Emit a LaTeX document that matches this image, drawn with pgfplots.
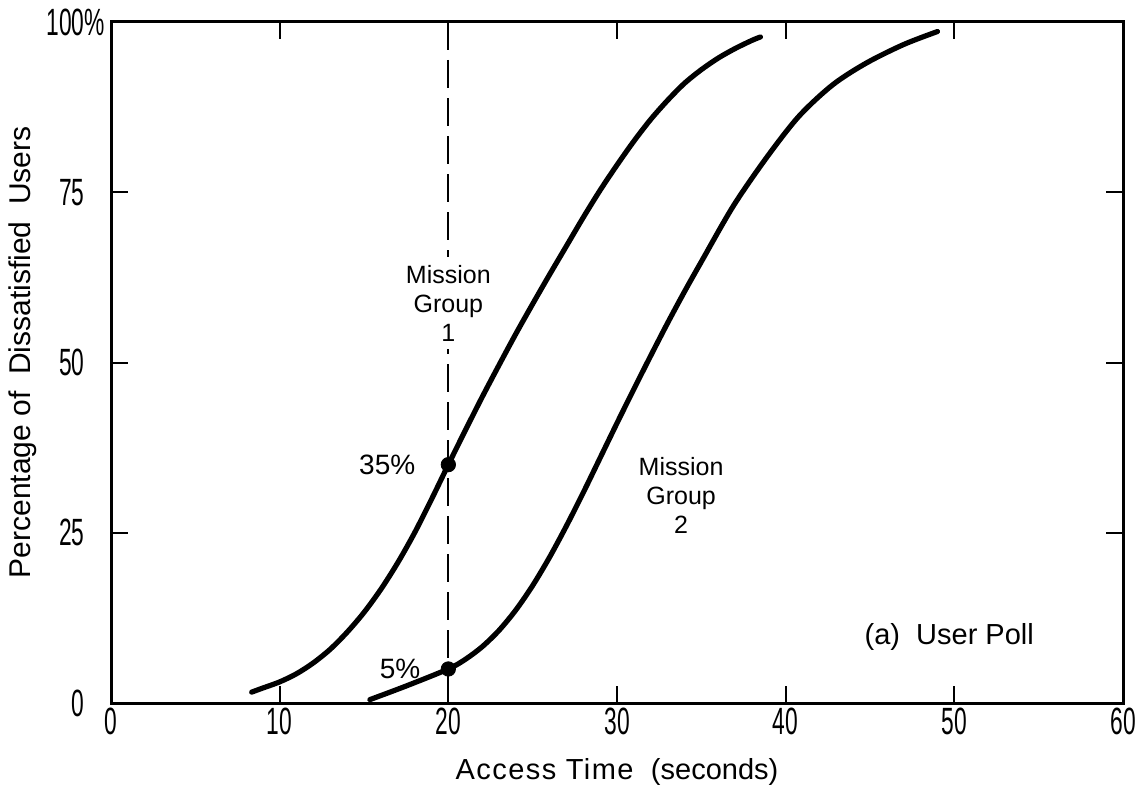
\documentclass[border=0pt]{standalone}
\usepackage{fontspec}
\setmainfont{Liberation Sans}
\newfontfamily\tickfont[FakeStretch=0.6]{Liberation Sans}
\newfontfamily\spacedfont[LetterSpace=5]{Liberation Sans}
\usepackage{pgfplots}
\pgfplotsset{compat=1.18}

% Percentage of dissatisfied users versus access time
\pgfplotstableread{
x     y
8.34  1.6
9     2.2
10    3.1
11    4.3
12    5.9
13    7.9
14    10.4
15    13.3
16    16.7
17    20.6
18    25.0
19    29.9
20    35.0
21    40.0
22    44.9
23    49.6
24    54.2
25    58.6
26    62.9
27    67.1
28    71.3
29    75.3
30    79.0
31    82.5
32    85.7
33    88.5
34    91.0
35    93.0
36    94.7
37    96.1
38    97.3
38.5  97.8
}\groupone

\pgfplotstableread{
x     y
15.35 0.5
17.5  2.5
20    5.0
21    6.4
22    8.25
23    10.65
24    13.65
25    17.25
26    21.4
27    26.0
28    30.9
29    36.0
30    41.1
31    46.1
32    51.0
33    55.8
34    60.4
35    64.8
36.9  73.0
38.9  80.2
40.8  86.2
42.8  90.8
44.8  94.0
47    96.7
49    98.6
}\grouptwo

\begin{document}
\begin{tikzpicture}
\begin{axis}[
  name=ax,
  scale only axis,
  width=506pt, height=340.5pt,
  xmin=0, xmax=60, ymin=0, ymax=100,
  xtick={0,10,20,30,40,50,60},
  xticklabels={0,10,20,30,40,50,60},
  ytick={0,25,50,75,100},
  yticklabels={0,25,50,75,100\rlap{\%}},
  tick align=inside,
  major tick length=8.5pt,
  every tick/.style={black, line width=1pt},
  axis line style={line width=1.5pt},
  tick label style={font=\fontsize{19}{19}\selectfont\tickfont},
  xticklabel style={inner sep=0pt, anchor=north, yshift=-2.5pt},
  yticklabel style={inner sep=0pt, anchor=east, xshift=-13pt},
  /pgf/number format/assume math mode=true,
  xlabel={{\spacedfont Access Time}\hspace{0.6em}(seconds)},
  ylabel={Percentage of\ \ Dissatisfied\ \ Users},
  every axis x label/.style={at={(axis description cs:0.5,0)}, anchor=center,
    yshift=-34.5pt, xshift=0pt, font=\fontsize{14.5}{15}\selectfont},
  every axis y label/.style={at={(axis description cs:-0.087,0.515)}, rotate=90,
    anchor=center, font=\fontsize{15}{15}\selectfont},
  clip=false,
]
  % reference line at 20 seconds
  \addplot[black, line width=1pt, dash pattern=on 14pt off 5pt] coordinates {(20,100) (20,0)};

  \addplot[black, line width=2.6pt, line cap=round, smooth, tension=0.5] table {\groupone};
  \addplot[black, line width=2.6pt, line cap=round, smooth, tension=0.5] table {\grouptwo};

  \node[fill=white, align=center, inner sep=4pt, font=\fontsize{12.5}{14.5}\selectfont]
    at (axis cs:20,58.7) {Mission\\Group\\1};
  \node[align=center, font=\fontsize{12.5}{14.5}\selectfont]
    at (axis cs:33.8,30.5) {Mission\\Group\\2};
  \node[font=\fontsize{14.5}{16}\selectfont] at (axis cs:49.7,9.7) {(a)\ \ User Poll};

  % marked values at 20 seconds
  \addplot[only marks, mark=*, mark size=3.6pt, black] coordinates {(20,35) (20,5)};
  \node[anchor=east, font=\fontsize{14}{14}\selectfont, xshift=-13pt] at (axis cs:20,35) {35\%};
  \node[anchor=east, font=\fontsize{14}{14}\selectfont, xshift=-10.5pt] at (axis cs:20,5) {5\%};
\end{axis}
\pgfresetboundingbox
\path[use as bounding box] ([xshift=-55.5pt, yshift=-45.5pt]ax.south west)
  rectangle ([xshift=9pt, yshift=11pt]ax.north east);
\end{tikzpicture}
\end{document}
